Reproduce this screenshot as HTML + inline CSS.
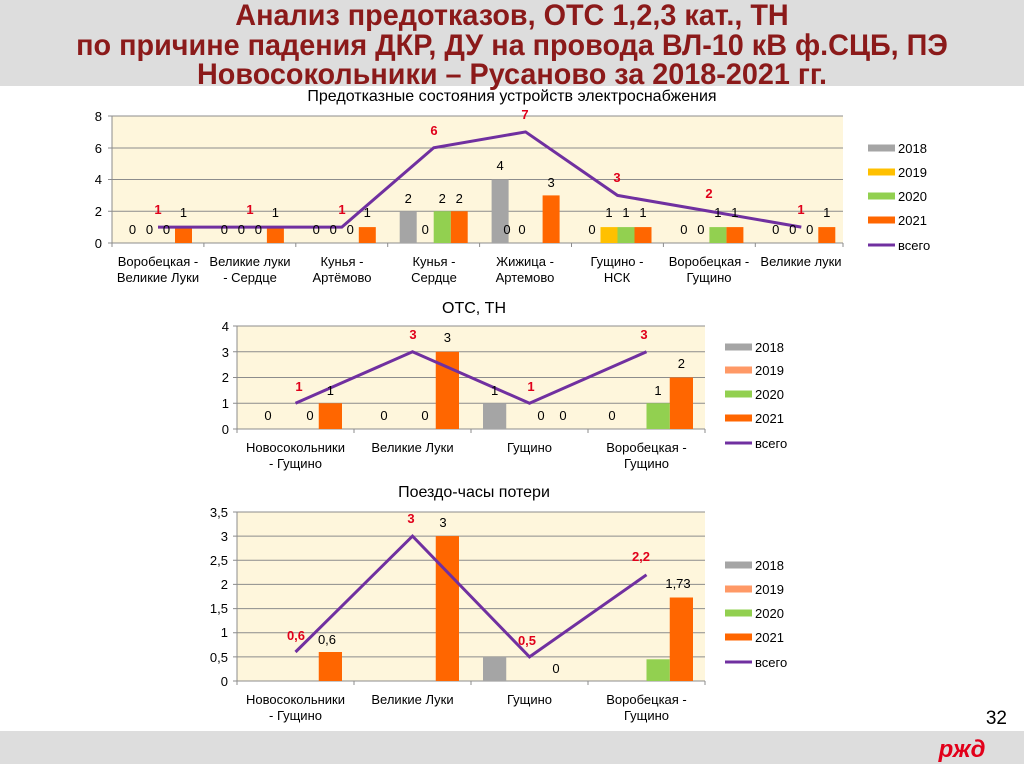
<!DOCTYPE html>
<html><head><meta charset="utf-8"><style>
body{margin:0;width:1024px;height:767px;overflow:hidden;background:#fff}
svg{display:block}
text{font-family:"Liberation Sans",sans-serif;font-size:13px;fill:#000}
.r{fill:#E0001A;font-weight:bold}
.t{font-weight:bold;font-size:30px;fill:#8B1A1A}
</style></head><body>
<svg width="1024" height="767" viewBox="0 0 1024 767">
<rect x="0" y="0" width="1024" height="86" fill="#DDDDDD"/>
<g transform="translate(512,0) scale(0.96,1)">
<text class="t" x="0" y="25" text-anchor="middle">Анализ предотказов, ОТС 1,2,3 кат., ТН</text>
<text class="t" x="0" y="55" text-anchor="middle">по причине падения ДКР, ДУ на провода ВЛ-10 кВ ф.СЦБ, ПЭ</text>
<text class="t" x="0" y="84" text-anchor="middle">Новосокольники – Русаново за 2018-2021 гг.</text>
</g>
<rect x="0" y="731" width="1024" height="33" fill="#DDDDDD"/>
<text x="1007" y="724" text-anchor="end" style="font-size:19px">32</text>
<text x="962" y="757" text-anchor="middle" style="font-size:24px;font-weight:bold;font-style:italic;fill:#E2001A">ржд</text>

<!-- Chart 1 -->
<text x="512" y="101" text-anchor="middle" style="font-size:16px">Предотказные состояния устройств электроснабжения</text>
<rect x="112" y="116" width="731" height="127" fill="#FEF6DC"/>
<g stroke="#8c8c8c" stroke-width="1">
<line x1="108" y1="116" x2="843" y2="116"/><line x1="108" y1="148" x2="843" y2="148"/><line x1="108" y1="179.5" x2="843" y2="179.5"/><line x1="108" y1="211.25" x2="843" y2="211.25"/><line x1="108" y1="243" x2="843" y2="243"/>
<line x1="112" y1="116" x2="112" y2="247"/>
<line x1="203.9" y1="243" x2="203.9" y2="247"/><line x1="295.8" y1="243" x2="295.8" y2="247"/><line x1="387.7" y1="243" x2="387.7" y2="247"/><line x1="479.6" y1="243" x2="479.6" y2="247"/><line x1="571.5" y1="243" x2="571.5" y2="247"/><line x1="663.4" y1="243" x2="663.4" y2="247"/><line x1="755.3" y1="243" x2="755.3" y2="247"/><line x1="843" y1="243" x2="843" y2="247"/>
</g>
<g text-anchor="end"><text x="102" y="121">8</text><text x="102" y="153">6</text><text x="102" y="184">4</text><text x="102" y="216">2</text><text x="102" y="248">0</text></g>
<g fill="#FF6600">
<rect x="175" y="227.1" width="17" height="15.9"/><rect x="266.9" y="227.1" width="17" height="15.9"/><rect x="358.8" y="227.1" width="17" height="15.9"/>
<rect x="450.7" y="211.25" width="17" height="31.75"/><rect x="542.6" y="195.4" width="17" height="47.6"/>
<rect x="634.5" y="227.1" width="17" height="15.9"/><rect x="726.4" y="227.1" width="17" height="15.9"/><rect x="818.3" y="227.1" width="17" height="15.9"/>
</g>
<rect x="399.7" y="211.25" width="17" height="31.75" fill="#A5A5A5"/>
<rect x="491.6" y="179.5" width="17" height="63.5" fill="#A5A5A5"/>
<rect x="433.7" y="211.25" width="17" height="31.75" fill="#92D050"/>
<rect x="617.5" y="227.1" width="17" height="15.9" fill="#92D050"/>
<rect x="709.4" y="227.1" width="17" height="15.9" fill="#92D050"/>
<rect x="600.5" y="227.1" width="17" height="15.9" fill="#FFC000"/>
<polyline points="158,227.1 249.9,227.1 341.8,227.1 433.7,147.75 525.6,131.9 617.5,195.4 709.4,211.25 801.3,227.1" fill="none" stroke="#7030A0" stroke-width="3"/>
<g text-anchor="middle">
<text x="132.5" y="234">0</text><text x="149.5" y="234">0</text><text x="166.5" y="234">0</text><text x="183.5" y="217">1</text>
<text x="224.4" y="234">0</text><text x="241.4" y="234">0</text><text x="258.4" y="234">0</text><text x="275.4" y="217">1</text>
<text x="316.3" y="234">0</text><text x="333.3" y="234">0</text><text x="350.3" y="234">0</text><text x="367.3" y="217">1</text>
<text x="408.2" y="203">2</text><text x="425.2" y="234">0</text><text x="442.2" y="203">2</text><text x="459.2" y="203">2</text>
<text x="500.1" y="170">4</text><text x="507" y="234">0</text><text x="522" y="234">0</text><text x="551.1" y="187">3</text>
<text x="592" y="234">0</text><text x="609" y="217">1</text><text x="626" y="217">1</text><text x="643" y="217">1</text>
<text x="683.9" y="234">0</text><text x="700.9" y="234">0</text><text x="717.9" y="217">1</text><text x="734.9" y="217">1</text>
<text x="775.8" y="234">0</text><text x="792.8" y="234">0</text><text x="809.8" y="234">0</text><text x="826.8" y="217">1</text>
<text class="r" x="158" y="214">1</text><text class="r" x="250" y="214">1</text><text class="r" x="342" y="214">1</text>
<text class="r" x="434" y="135">6</text><text class="r" x="525" y="119">7</text><text class="r" x="617" y="182">3</text><text class="r" x="709" y="198">2</text><text class="r" x="801" y="214">1</text>
<text x="158" y="266">Воробецкая -</text><text x="158" y="282">Великие Луки</text>
<text x="250" y="266">Великие луки</text><text x="250" y="282">- Сердце</text>
<text x="342" y="266">Кунья -</text><text x="342" y="282">Артёмово</text>
<text x="434" y="266">Кунья -</text><text x="434" y="282">Сердце</text>
<text x="525" y="266">Жижица -</text><text x="525" y="282">Артемово</text>
<text x="617" y="266">Гущино -</text><text x="617" y="282">НСК</text>
<text x="709" y="266">Воробецкая -</text><text x="709" y="282">Гущино</text>
<text x="801" y="266">Великие луки</text>
</g>
<rect x="868" y="144.5" width="27" height="7" fill="#A5A5A5"/><text x="898" y="153">2018</text>
<rect x="868" y="168.5" width="27" height="7" fill="#FFC000"/><text x="898" y="177">2019</text>
<rect x="868" y="192.5" width="27" height="7" fill="#92D050"/><text x="898" y="201">2020</text>
<rect x="868" y="216.5" width="27" height="7" fill="#FF6600"/><text x="898" y="225">2021</text>
<line x1="868" y1="245" x2="895" y2="245" stroke="#7030A0" stroke-width="3"/><text x="898" y="250">всего</text>

<!-- Chart 2 -->
<text x="474" y="313" text-anchor="middle" style="font-size:16px">ОТС, ТН</text>
<rect x="237" y="326" width="468" height="103" fill="#FEF6DC"/>
<g stroke="#8c8c8c" stroke-width="1">
<line x1="233" y1="326" x2="705" y2="326"/><line x1="233" y1="351.75" x2="705" y2="351.75"/><line x1="233" y1="377.5" x2="705" y2="377.5"/><line x1="233" y1="403.25" x2="705" y2="403.25"/><line x1="233" y1="429" x2="705" y2="429"/>
<line x1="237" y1="326" x2="237" y2="433"/><line x1="354" y1="429" x2="354" y2="433"/><line x1="471" y1="429" x2="471" y2="433"/><line x1="588" y1="429" x2="588" y2="433"/><line x1="705" y1="429" x2="705" y2="433"/>
</g>
<g text-anchor="end"><text x="229" y="331">4</text><text x="229" y="357">3</text><text x="229" y="382">2</text><text x="229" y="408">1</text><text x="229" y="434">0</text></g>
<rect x="318.75" y="403.25" width="23.25" height="25.75" fill="#FF6600"/>
<rect x="435.75" y="351.75" width="23.25" height="77.25" fill="#FF6600"/>
<rect x="669.75" y="377.5" width="23.25" height="51.5" fill="#FF6600"/>
<rect x="483" y="403.25" width="23.25" height="25.75" fill="#A5A5A5"/>
<rect x="646.5" y="403.25" width="23.25" height="25.75" fill="#92D050"/>
<polyline points="295.5,403.25 412.5,351.75 529.5,403.25 646.5,351.75" fill="none" stroke="#7030A0" stroke-width="3"/>
<g text-anchor="middle">
<text x="268" y="420">0</text><text x="310" y="420">0</text><text x="330.4" y="395">1</text>
<text x="384" y="420">0</text><text x="425" y="420">0</text><text x="447.4" y="342">3</text>
<text x="494.6" y="395">1</text><text x="541" y="420">0</text><text x="563" y="420">0</text>
<text x="612" y="420">0</text><text x="658" y="395">1</text><text x="681.4" y="368">2</text>
<text class="r" x="299" y="391">1</text><text class="r" x="413" y="339">3</text><text class="r" x="531" y="391">1</text><text class="r" x="644" y="339">3</text>
<text x="295.5" y="452">Новосокольники</text><text x="295.5" y="468">- Гущино</text>
<text x="412.5" y="452">Великие Луки</text>
<text x="529.5" y="452">Гущино</text>
<text x="646.5" y="452">Воробецкая -</text><text x="646.5" y="468">Гущино</text>
</g>
<rect x="725" y="343.5" width="27" height="7" fill="#A5A5A5"/><text x="755" y="352">2018</text>
<rect x="725" y="366.5" width="27" height="7" fill="#FF9966"/><text x="755" y="375">2019</text>
<rect x="725" y="390.5" width="27" height="7" fill="#92D050"/><text x="755" y="399">2020</text>
<rect x="725" y="414.5" width="27" height="7" fill="#FF6600"/><text x="755" y="423">2021</text>
<line x1="725" y1="443" x2="752" y2="443" stroke="#7030A0" stroke-width="3"/><text x="755" y="448">всего</text>

<!-- Chart 3 -->
<text x="474" y="497" text-anchor="middle" style="font-size:16px">Поездо-часы потери</text>
<rect x="237" y="512" width="468" height="169" fill="#FEF6DC"/>
<g stroke="#8c8c8c" stroke-width="1">
<line x1="233" y1="512" x2="705" y2="512"/><line x1="233" y1="536.1" x2="705" y2="536.1"/><line x1="233" y1="560.3" x2="705" y2="560.3"/><line x1="233" y1="584.4" x2="705" y2="584.4"/><line x1="233" y1="608.6" x2="705" y2="608.6"/><line x1="233" y1="632.7" x2="705" y2="632.7"/><line x1="233" y1="656.9" x2="705" y2="656.9"/><line x1="233" y1="681" x2="705" y2="681"/>
<line x1="237" y1="512" x2="237" y2="685"/><line x1="354" y1="681" x2="354" y2="685"/><line x1="471" y1="681" x2="471" y2="685"/><line x1="588" y1="681" x2="588" y2="685"/><line x1="705" y1="681" x2="705" y2="685"/>
</g>
<g text-anchor="end"><text x="228" y="517">3,5</text><text x="228" y="541">3</text><text x="228" y="565">2,5</text><text x="228" y="589">2</text><text x="228" y="613">1,5</text><text x="228" y="637">1</text><text x="228" y="662">0,5</text><text x="228" y="686">0</text></g>
<rect x="318.75" y="652" width="23.25" height="29" fill="#FF6600"/>
<rect x="435.75" y="536.1" width="23.25" height="144.9" fill="#FF6600"/>
<rect x="669.75" y="597.5" width="23.25" height="83.5" fill="#FF6600"/>
<rect x="483" y="656.9" width="23.25" height="24.1" fill="#A5A5A5"/>
<rect x="646.5" y="659.3" width="23.25" height="21.7" fill="#92D050"/>
<polyline points="295.5,652 412.5,536.1 529.5,656.9 646.5,574.8" fill="none" stroke="#7030A0" stroke-width="3"/>
<g text-anchor="middle">
<text x="327" y="644">0,6</text><text x="443" y="527">3</text><text x="556" y="673">0</text><text x="678" y="588">1,73</text>
<text class="r" x="296" y="640">0,6</text><text class="r" x="411" y="523">3</text><text class="r" x="527" y="645">0,5</text><text class="r" x="641" y="561">2,2</text>
<text x="295.5" y="704">Новосокольники</text><text x="295.5" y="720">- Гущино</text>
<text x="412.5" y="704">Великие Луки</text>
<text x="529.5" y="704">Гущино</text>
<text x="646.5" y="704">Воробецкая -</text><text x="646.5" y="720">Гущино</text>
</g>
<rect x="725" y="561.5" width="27" height="7" fill="#A5A5A5"/><text x="755" y="570">2018</text>
<rect x="725" y="585.5" width="27" height="7" fill="#FF9966"/><text x="755" y="594">2019</text>
<rect x="725" y="609.5" width="27" height="7" fill="#92D050"/><text x="755" y="618">2020</text>
<rect x="725" y="633.5" width="27" height="7" fill="#FF6600"/><text x="755" y="642">2021</text>
<line x1="725" y1="662" x2="752" y2="662" stroke="#7030A0" stroke-width="3"/><text x="755" y="667">всего</text>
</svg>
</body></html>
